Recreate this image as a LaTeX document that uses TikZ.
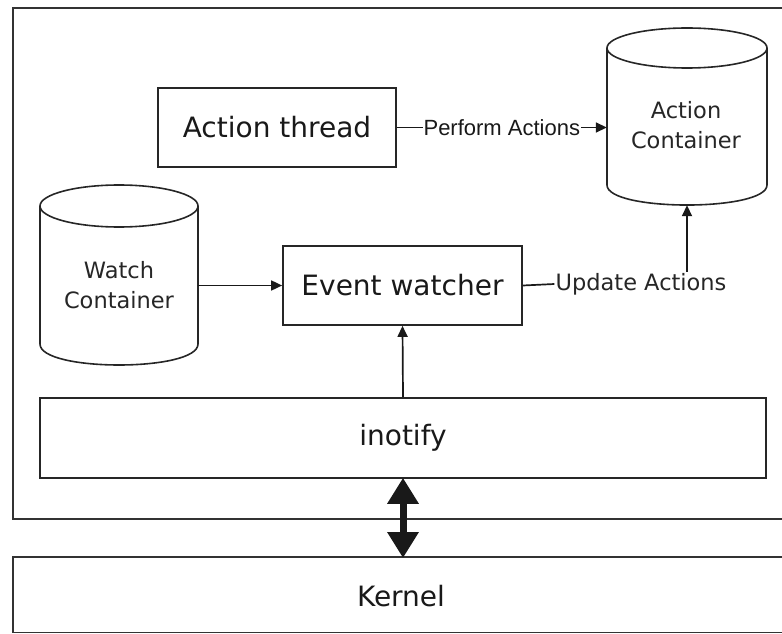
\documentclass[tikz,border=0pt]{standalone}
\usepackage{fontspec}
\setmainfont{DejaVu Sans}
\newfontfamily\pfontfam{Liberation Sans}
\usetikzlibrary{arrows.meta,calc}
\tikzset{
  frame/.style={draw=black!80, line width=1.9bp},
  box/.style={draw=black!85, line width=1.7bp, fill=white, inner sep=0pt, font=\fontsize{28bp}{33bp}\selectfont, text=black!90},
  cylbody/.style={draw=black!85, line width=1.6bp},
  small/.style={font=\fontsize{22.5bp}{30bp}\selectfont, text=black!85, align=center, inner sep=1bp},
  conn/.style={draw=black!90, line width=1.7bp},
  arr/.style={conn, -{Triangle[length=11bp,width=10bp]}},
  dbl/.style={draw=black!90, line width=7bp, {Triangle[length=26bp,width=30bp]}-{Triangle[length=26bp,width=30bp]}, shorten <=-1bp, shorten >=-1bp}
}
\begin{document}
\begin{tikzpicture}[x=1bp,y=-1bp]
\useasboundingbox (0,0) rectangle (782,634);
% outer frame and kernel
\draw[frame] (782,8) -- (13,8) -- (13,519) -- (782,519);
\draw[frame] (782,557) -- (13,557) -- (13,632.5) -- (782,632.5);
\node[font=\fontsize{28bp}{33bp}\selectfont, text=black!90, inner sep=0pt] (kernel) at (401,596) {Kernel};
\coordinate (ktop) at (403,557);
% boxes
\node[box, minimum width=238bp, minimum height=79bp] (at) at (277,127.5) {Action thread};
\node[box, minimum width=239bp, minimum height=79bp] (ew) at (402.5,285.5) {Event watcher};
\node[box, minimum width=726bp, minimum height=80bp] (ino) at (403,438) {inotify};
% cylinders
\node[minimum width=158bp, minimum height=180bp, inner sep=0pt] (wc) at (119,275) {};
\draw[cylbody] (119,206) ellipse (79 and 21);
\draw[cylbody] (40,206) -- (40,344) .. controls (40,372) and (198,372) .. (198,344) -- (198,206);
\node[small] (wct) at (119,285) {Watch\\Container};
\node[minimum width=160bp, minimum height=178bp, inner sep=0pt] (ac) at (687,116) {};
\draw[cylbody] (687,48) ellipse (80 and 20);
\draw[cylbody] (607,48) -- (607,185) .. controls (607,211.7) and (767,211.7) .. (767,185) -- (767,48);
\node[small] (act) at (686,125) {Action\\Container};
% connectors
\draw[arr] (at.east) -- node[fill=white, inner sep=0.5bp, font=\pfontfam\fontsize{22bp}{26bp}\selectfont, text=black!90] (pa) {Perform Actions} (at.east -| ac.west);
\draw[arr] (wc.east |- ew.west) -- (ew.west);
\node[small] (ua) at (641,284) {Update Actions};
\draw[conn] (ew.east) -- (ua.west);
\draw[arr] (ua.north -| ac.south) -- (ac.south);
\draw[arr] (ino.north) -- (ew.south);
\draw[dbl] (ino.south) -- (ktop);
\end{tikzpicture}
\end{document}
